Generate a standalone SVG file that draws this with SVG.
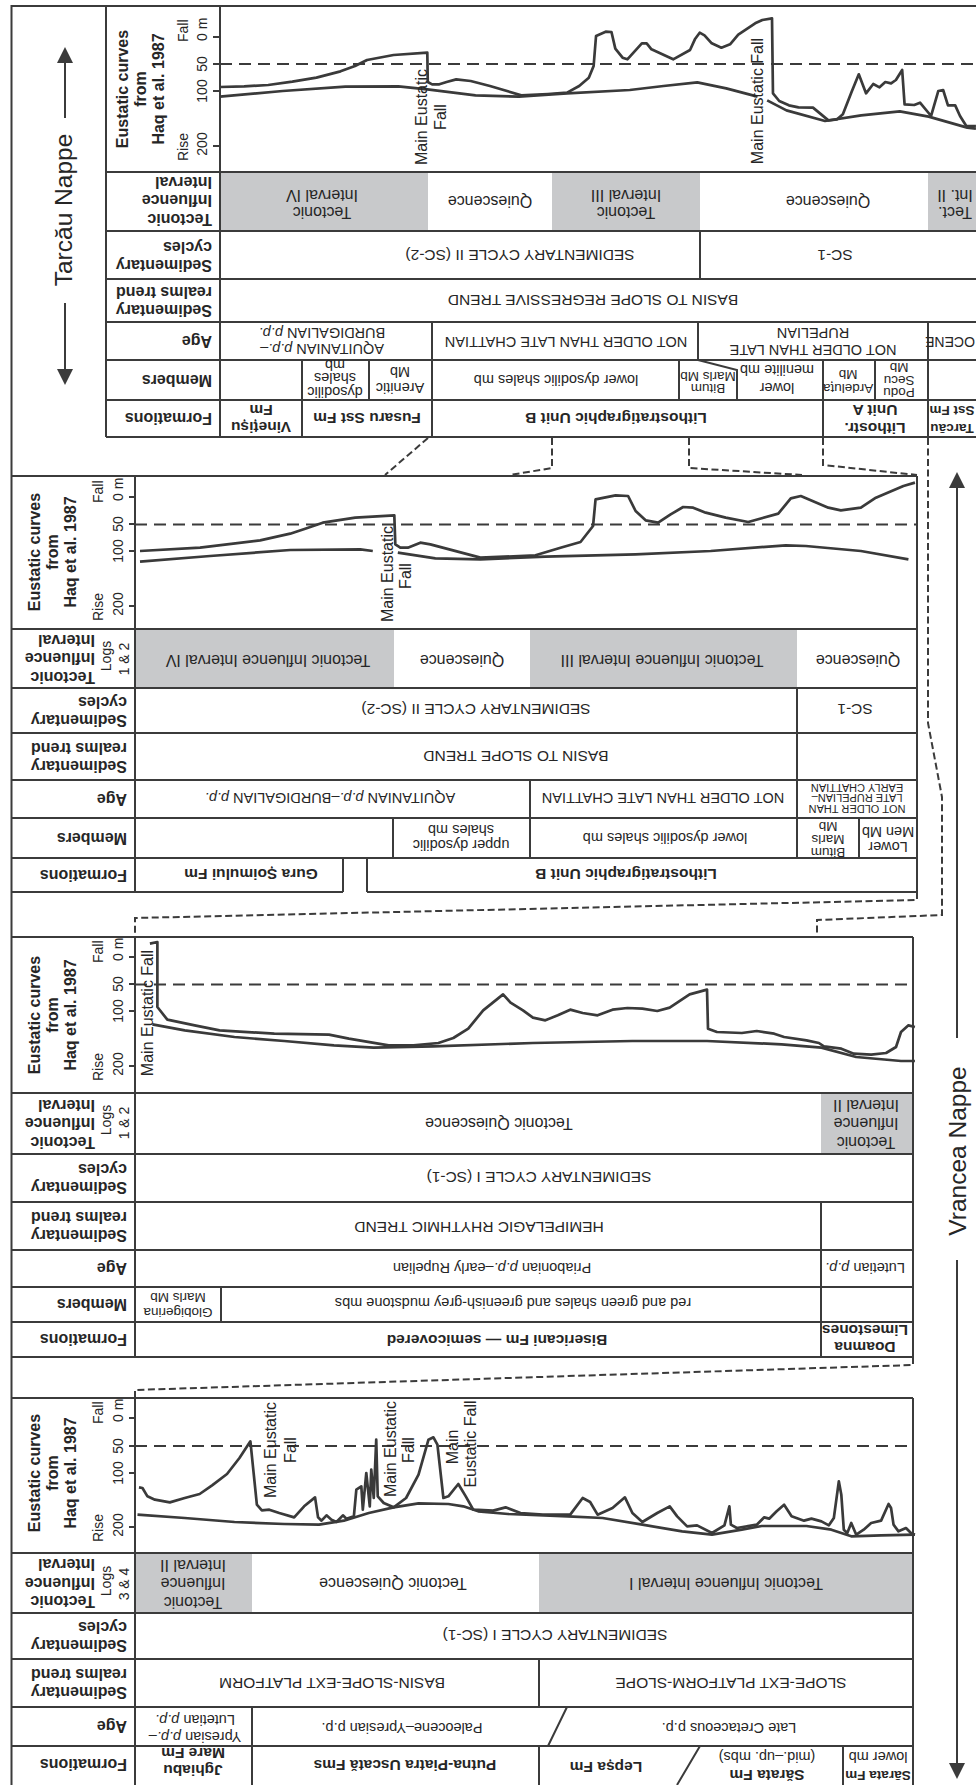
<svg xmlns="http://www.w3.org/2000/svg" width="976" height="1785" viewBox="0 0 976 1785">
<style>
text{font-family:"Liberation Sans",Arial,Helvetica,sans-serif;fill:#262626;text-anchor:middle;dominant-baseline:central}
.hd{font-weight:bold;font-size:16px}
.st{text-anchor:start}
.c{font-size:16px}
.c2{font-size:15.5px}
.ag{font-size:14.5px}
.mb{font-size:14.5px}
.sm{font-size:13.5px}
.xs{font-size:11px}
.fm{font-weight:bold;font-size:15.5px}
.fs{font-weight:bold;font-size:13.5px}
.ax{font-size:14px}
.me{font-size:16px}
.np{font-size:24.5px}
.ln{stroke:#3b3b3b;stroke-width:2;fill:none}
.dl{stroke:#3b3b3b;stroke-width:1.8;stroke-dasharray:12 7;fill:none}
.cn{stroke:#3b3b3b;stroke-width:2;stroke-dasharray:7 3.5;fill:none}
.cv{stroke:#3a3a3a;stroke-width:2.7;fill:none;stroke-linejoin:round;vector-effect:non-scaling-stroke}
.gr{fill:#c8c9cb}
.ar{fill:#3b3b3b}
.i{font-style:italic}
</style>
<rect width="976" height="1785" fill="#fff"/>
<g id="frame"><path class="ln" d="M11.5 1785V6H976"/></g>

<g id="tarcau-nappe">
<path class="ln" d="M65 60V118M65 303V372"/>
<polygon class="ar" points="65,47 57,63 73,63"/>
<polygon class="ar" points="65,385 57,369 73,369"/>
<text class="np" x="63" y="210" transform="rotate(-90 63 210)">Tarcău Nappe</text>
</g>
<g id="vrancea-nappe">
<path class="ln" d="M957 486V1038M957 1260V1766"/>
<polygon class="ar" points="957,472 949,488 965,488"/>
<polygon class="ar" points="957,1779 949,1763 965,1763"/>
<text class="np" x="957" y="1151" transform="rotate(-90 957 1151)">Vrancea Nappe</text>
</g>

<!-- PANEL 1 -->
<g id="panel1">
<rect class="gr" x="220" y="172" width="208" height="59"/>
<rect class="gr" x="552" y="172" width="148" height="59"/>
<rect class="gr" x="928" y="172" width="48" height="59"/>
<path class="ln" d="M106 6V437M220 6V437M106 172H976M106 231H976M106 279H976M106 322H976M106 360H976M106 400H976M106 437H976M700 231V279M432 322V360M698 322V360M928 322V360M302 360V437M369 360V400M432 360V437M679 360V400M698 360L737 370V400M823 360V437M875 360V400M928 360V437M213 37H220M213 64H220M213 91H220M213 146H220"/>
<path class="dl" d="M220 64H976"/>
<g transform="translate(220 6) scale(0.4821 0.33333)">
<polyline class="cv" points="0,243 50,241 100,237 150,227 200,215 250,196 280,180 305,162 360,147 430,140 431,228 440,235 455,235 470,228 490,220 520,225 560,240 625,268 680,264 720,260 745,240 765,215 775,180 780,90 800,77 812,78 820,128 835,155 845,160 875,112 885,112 895,130 940,160 975,132 985,100 995,80 1005,88 1020,112 1040,125 1058,115 1075,86 1110,52 1125,42 1145,37 1147,262 1160,285 1180,298 1200,304 1230,305 1262,343 1280,340 1292,325 1310,258 1325,205 1340,262 1355,234 1368,244 1380,228 1392,232 1402,222 1415,192 1420,295 1440,297 1452,290 1475,330 1490,255 1500,252 1510,298 1525,298 1535,330 1548,360 1568,360"/>
<polyline class="cv" points="0,272 130,255 260,242 370,241 430,250 530,268 620,272 720,262 850,252 920,240 990,229 1050,247 1115,272"/>
<polyline class="cv" points="1135,283 1175,313 1255,345 1330,328 1410,316 1470,332 1550,365 1568,368"/>
</g>
<text class="hd" x="122" y="89" transform="rotate(-90 122 89)">Eustatic curves</text>
<text class="hd" x="140" y="89" transform="rotate(-90 140 89)">from</text>
<text class="hd" x="158" y="89" transform="rotate(-90 158 89)">Haq et al. 1987</text>
<text class="ax st" x="183" y="42" transform="rotate(-90 183 42)">Fall</text>
<text class="ax st" x="202" y="41" transform="rotate(-90 202 41)">0 m</text>
<text class="ax" x="202" y="64" transform="rotate(-90 202 64)">50</text>
<text class="ax" x="202" y="91" transform="rotate(-90 202 91)">100</text>
<text class="ax" x="202" y="144" transform="rotate(-90 202 144)">200</text>
<text class="ax" x="183" y="147" transform="rotate(-90 183 147)">Rise</text>
<text class="hd st" x="212" y="219" transform="rotate(180 212 219)">Tectonic</text>
<text class="hd st" x="212" y="200" transform="rotate(180 212 200)">Influence</text>
<text class="hd st" x="212" y="182" transform="rotate(180 212 182)">Interval</text>
<text class="hd st" x="212" y="265" transform="rotate(180 212 265)">Sedimentary</text>
<text class="hd st" x="212" y="247" transform="rotate(180 212 247)">cycles</text>
<text class="hd st" x="212" y="310" transform="rotate(180 212 310)">Sedimentary</text>
<text class="hd st" x="212" y="292" transform="rotate(180 212 292)">realms trend</text>
<text class="hd st" x="212" y="341" transform="rotate(180 212 341)">Age</text>
<text class="hd st" x="212" y="380" transform="rotate(180 212 380)">Members</text>
<text class="hd st" x="212" y="418" transform="rotate(180 212 418)">Formations</text>
<text class="me" x="421" y="117" transform="rotate(-90 421 117)">Main Eustatic</text>
<text class="me" x="440" y="117" transform="rotate(-90 440 117)">Fall</text>
<text class="me" x="757" y="101" transform="rotate(-90 757 101)">Main Eustatic Fall</text>
<text class="c" x="322" y="212" transform="rotate(180 322 212)">Tectonic</text>
<text class="c" x="322" y="195" transform="rotate(180 322 195)">Interval IV</text>
<text class="c" x="490" y="201" transform="rotate(180 490 201)">Quiescence</text>
<text class="c" x="626" y="212" transform="rotate(180 626 212)">Tectonic</text>
<text class="c" x="626" y="195" transform="rotate(180 626 195)">Interval III</text>
<text class="c" x="828" y="201" transform="rotate(180 828 201)">Quiescence</text>
<text class="c" x="955" y="212" transform="rotate(180 955 212)">Tect.</text>
<text class="c" x="955" y="195" transform="rotate(180 955 195)">Int. II</text>
<text class="c2" x="520" y="255" transform="rotate(180 520 255)">SEDIMENTARY CYCLE II (SC-2)</text>
<text class="c2" x="835" y="255" transform="rotate(180 835 255)">SC-1</text>
<text class="c2" x="593" y="300" transform="rotate(180 593 300)">BASIN TO SLOPE REGRESSIVE TREND</text>
<text class="ag" x="322" y="349" transform="rotate(180 322 349)">AQUITANIAN <tspan class="i">p.p.</tspan>–</text>
<text class="ag" x="322" y="333" transform="rotate(180 322 333)">BURDIGALIAN <tspan class="i">p.p.</tspan></text>
<text class="ag" x="566" y="342" transform="rotate(180 566 342)">NOT OLDER THAN LATE CHATTIAN</text>
<text class="ag" x="813" y="350" transform="rotate(180 813 350)">NOT OLDER THAN LATE</text>
<text class="ag" x="813" y="333" transform="rotate(180 813 333)">RUPELIAN</text>
<text x="950" y="342" font-size="14" transform="rotate(180 950 342)">OCENE</text>
<text class="mb" x="335" y="392" transform="rotate(180 335 392)">dysodilic</text>
<text class="mb" x="335" y="378" transform="rotate(180 335 378)">shales</text>
<text class="mb" x="335" y="365" transform="rotate(180 335 365)">mb</text>
<text class="mb" x="400" y="388" transform="rotate(180 400 388)">Arenitic</text>
<text class="mb" x="400" y="372" transform="rotate(180 400 372)">Mb</text>
<text class="mb" x="556" y="380" transform="rotate(180 556 380)">lower dysodilic shales mb</text>
<text class="sm" x="708" y="388" transform="rotate(180 708 388)">Bitum</text>
<text class="sm" x="708" y="376" transform="rotate(180 708 376)">Marls Mb</text>
<text class="mb" x="777" y="388" transform="rotate(180 777 388)">lower</text>
<text class="mb" x="777" y="370" transform="rotate(180 777 370)">menilite mb</text>
<text class="sm" x="848" y="388" transform="rotate(180 848 388)">Ardeluța</text>
<text class="sm" x="848" y="374" transform="rotate(180 848 374)">Mb</text>
<text class="sm" x="899" y="392" transform="rotate(180 899 392)">Podu</text>
<text class="sm" x="899" y="380" transform="rotate(180 899 380)">Secu</text>
<text class="sm" x="899" y="367" transform="rotate(180 899 367)">Mb</text>
<text class="fm" x="261" y="427" transform="rotate(180 261 427)">Vinețișu</text>
<text class="fm" x="261" y="410" transform="rotate(180 261 410)">Fm</text>
<text class="fm" x="367" y="418" transform="rotate(180 367 418)">Fusaru Sst Fm</text>
<text class="fm" x="616" y="418" transform="rotate(180 616 418)">Lithostratigraphic Unit B</text>
<text class="fm" x="875" y="428" transform="rotate(180 875 428)">Lithostr.</text>
<text class="fm" x="875" y="410" transform="rotate(180 875 410)">Unit A</text>
<text class="fs" x="952" y="428" transform="rotate(180 952 428)">Tarcău</text>
<text class="fs" x="952" y="410" transform="rotate(180 952 410)">Sst Fm</text>
</g>

<!-- PANEL 2 -->
<g id="panel2">
<rect class="gr" x="135" y="629" width="259" height="59"/>
<rect class="gr" x="530" y="629" width="267" height="59"/>
<path class="ln" d="M11 476H917M11 629H917M11 688H917M11 733H917M11 780H917M11 818H917M11 858H917M11 892H343M367 892H917M135 476V892M917 476V892M797 688V780M530 780V858M797 780V858M393 818V858M859 818V858M343 858V892M367 858V892M129 497H135M129 524H135M129 551H135M129 606H135"/>
<path class="dl" d="M135 524.5H917"/>
<g transform="translate(135 476) scale(0.5006 0.33333)">
<polyline class="cv" points="10,225 130,215 250,193 310,173 340,158 375,140 440,125 518,118 520,205 530,215 545,215 570,200 590,205 690,245 800,238 850,215 890,198 915,150 920,70 960,58 985,60 1000,105 1020,133 1045,140 1070,115 1095,93 1115,95 1140,110 1180,125 1225,138 1285,113 1310,67 1330,60 1385,95 1410,103 1450,95 1480,65 1535,30 1558,20"/>
<polyline class="cv" points="10,257 150,240 310,222 450,220 475,225"/>
<polyline class="cv" points="525,230 600,247 690,250 820,242 1000,235 1150,225 1300,208 1340,210 1450,225 1545,250"/>
</g>
<text class="hd" x="34" y="552" transform="rotate(-90 34 552)">Eustatic curves</text>
<text class="hd" x="52" y="552" transform="rotate(-90 52 552)">from</text>
<text class="hd" x="70" y="552" transform="rotate(-90 70 552)">Haq et al. 1987</text>
<text class="ax st" x="98" y="503" transform="rotate(-90 98 503)">Fall</text>
<text class="ax st" x="118" y="501" transform="rotate(-90 118 501)">0 m</text>
<text class="ax" x="118" y="524" transform="rotate(-90 118 524)">50</text>
<text class="ax" x="118" y="551" transform="rotate(-90 118 551)">100</text>
<text class="ax" x="118" y="604" transform="rotate(-90 118 604)">200</text>
<text class="ax" x="98" y="607" transform="rotate(-90 98 607)">Rise</text>
<text class="hd st" x="95" y="677" transform="rotate(180 95 677)">Tectonic</text>
<text class="hd st" x="95" y="658.5" transform="rotate(180 95 658.5)">Influence</text>
<text class="hd st" x="95" y="640" transform="rotate(180 95 640)">Interval</text>
<text class="ax" x="106" y="656" transform="rotate(-90 106 656)">Logs</text>
<text class="ax" x="124" y="659" transform="rotate(-90 124 659)">1 &amp; 2</text>
<text class="hd st" x="127" y="720" transform="rotate(180 127 720)">Sedimentary</text>
<text class="hd st" x="127" y="702" transform="rotate(180 127 702)">cycles</text>
<text class="hd st" x="127" y="766" transform="rotate(180 127 766)">Sedimentary</text>
<text class="hd st" x="127" y="748" transform="rotate(180 127 748)">realms trend</text>
<text class="hd st" x="127" y="799" transform="rotate(180 127 799)">Age</text>
<text class="hd st" x="127" y="838" transform="rotate(180 127 838)">Members</text>
<text class="hd st" x="127" y="875" transform="rotate(180 127 875)">Formations</text>
<text class="me" x="387" y="574" transform="rotate(-90 387 574)">Main Eustatic</text>
<text class="me" x="405" y="576" transform="rotate(-90 405 576)">Fall</text>
<text class="c" x="268" y="660" transform="rotate(180 268 660)">Tectonic Influence Interval IV</text>
<text class="c" x="462" y="660" transform="rotate(180 462 660)">Quiescence</text>
<text class="c" x="662" y="660" transform="rotate(180 662 660)">Tectonic Influence Interval III</text>
<text class="c" x="858" y="660" transform="rotate(180 858 660)">Quiescence</text>
<text class="c2" x="476" y="709" transform="rotate(180 476 709)">SEDIMENTARY CYCLE II (SC-2)</text>
<text class="c2" x="855" y="709" transform="rotate(180 855 709)">SC-1</text>
<text class="c2" x="516" y="756" transform="rotate(180 516 756)">BASIN TO SLOPE TREND</text>
<text class="ag" x="330" y="798" transform="rotate(180 330 798)">AQUITANIAN <tspan class="i">p.p.</tspan>–BURDIGALIAN <tspan class="i">p.p.</tspan></text>
<text class="ag" x="663" y="798" transform="rotate(180 663 798)">NOT OLDER THAN LATE CHATTIAN</text>
<text class="xs" x="857" y="809" transform="rotate(180 857 809)">NOT OLDER THAN</text>
<text class="xs" x="857" y="798" transform="rotate(180 857 798)">LATE RUPELIAN–</text>
<text class="xs" x="857" y="788" transform="rotate(180 857 788)">EARLY CHATTIAN</text>
<text class="mb" x="461" y="845" transform="rotate(180 461 845)">upper dysodilic</text>
<text class="mb" x="461" y="830" transform="rotate(180 461 830)">shales mb</text>
<text class="mb" x="665" y="838" transform="rotate(180 665 838)">lower dysodilic shales mb</text>
<text class="sm" x="828" y="852" transform="rotate(180 828 852)">Bitum</text>
<text class="sm" x="828" y="839" transform="rotate(180 828 839)">Marls</text>
<text class="sm" x="828" y="826" transform="rotate(180 828 826)">Mb</text>
<text class="mb" x="888" y="847" transform="rotate(180 888 847)">Lower</text>
<text class="mb" x="888" y="832" transform="rotate(180 888 832)">Men Mb</text>
<text class="fm" x="251" y="874" transform="rotate(180 251 874)">Gura Șoimului Fm</text>
<text class="fm" x="626" y="874" transform="rotate(180 626 874)">Lithostratigraphic Unit B</text>
</g>

<!-- PANEL 3 -->
<g id="panel3">
<rect class="gr" x="821" y="1093" width="92" height="61"/>
<path class="ln" d="M11 937H913M11 1093H913M11 1154H913M11 1202H913M11 1250H913M11 1287H913M11 1322H913M11 1357H913M135 937V1357M913 937V1357M821 1202V1357M221 1287V1322M129 957H135M129 984H135M129 1011H135M129 1066H135"/>
<path class="dl" d="M135 984.5H913"/>
<g transform="translate(135 937) scale(0.4974 0.33333)">
<polyline class="cv" points="30,20 45,15 45,210 65,248 120,265 170,280 280,290 390,293 430,305 510,325 560,325 610,318 640,303 670,275 700,220 740,172 755,197 780,220 800,242 825,250 850,235 875,218 900,228 930,235 960,218 990,213 1020,215 1050,222 1075,212 1115,172 1150,158 1152,275 1170,285 1220,288 1250,282 1285,290 1305,300 1350,310 1375,318 1385,328 1420,335 1445,350 1480,353 1510,348 1530,330 1540,285 1555,265 1568,270"/>
<polyline class="cv" points="35,262 100,280 200,300 300,312 400,325 480,332 600,328 800,318 1000,312 1150,312 1300,322 1380,332 1450,360 1540,372 1568,372"/>
</g>
<text class="hd" x="34" y="1015" transform="rotate(-90 34 1015)">Eustatic curves</text>
<text class="hd" x="52" y="1015" transform="rotate(-90 52 1015)">from</text>
<text class="hd" x="70" y="1015" transform="rotate(-90 70 1015)">Haq et al. 1987</text>
<text class="ax st" x="98" y="963" transform="rotate(-90 98 963)">Fall</text>
<text class="ax st" x="118" y="961" transform="rotate(-90 118 961)">0 m</text>
<text class="ax" x="118" y="984" transform="rotate(-90 118 984)">50</text>
<text class="ax" x="118" y="1011" transform="rotate(-90 118 1011)">100</text>
<text class="ax" x="118" y="1064" transform="rotate(-90 118 1064)">200</text>
<text class="ax" x="98" y="1067" transform="rotate(-90 98 1067)">Rise</text>
<text class="hd st" x="95" y="1142" transform="rotate(180 95 1142)">Tectonic</text>
<text class="hd st" x="95" y="1123.5" transform="rotate(180 95 1123.5)">Influence</text>
<text class="hd st" x="95" y="1105" transform="rotate(180 95 1105)">Interval</text>
<text class="ax" x="106" y="1120" transform="rotate(-90 106 1120)">Logs</text>
<text class="ax" x="124" y="1123" transform="rotate(-90 124 1123)">1 &amp; 2</text>
<text class="hd st" x="127" y="1187" transform="rotate(180 127 1187)">Sedimentary</text>
<text class="hd st" x="127" y="1169" transform="rotate(180 127 1169)">cycles</text>
<text class="hd st" x="127" y="1235" transform="rotate(180 127 1235)">Sedimentary</text>
<text class="hd st" x="127" y="1217" transform="rotate(180 127 1217)">realms trend</text>
<text class="hd st" x="127" y="1268.5" transform="rotate(180 127 1268.5)">Age</text>
<text class="hd st" x="127" y="1304.5" transform="rotate(180 127 1304.5)">Members</text>
<text class="hd st" x="127" y="1339.5" transform="rotate(180 127 1339.5)">Formations</text>
<text class="me" x="147" y="1013" transform="rotate(-90 147 1013)">Main Eustatic Fall</text>
<text class="c" x="499" y="1123" transform="rotate(180 499 1123)">Tectonic Quiescence</text>
<text class="c" x="866" y="1142" transform="rotate(180 866 1142)">Tectonic</text>
<text class="c" x="866" y="1123" transform="rotate(180 866 1123)">Influence</text>
<text class="c" x="866" y="1105" transform="rotate(180 866 1105)">Interval II</text>
<text class="c2" x="539" y="1177" transform="rotate(180 539 1177)">SEDIMENTARY CYCLE I (SC-1)</text>
<text class="c2" x="479" y="1227" transform="rotate(180 479 1227)">HEMIPELAGIC RHYTHMIC TREND</text>
<text class="ag" x="492" y="1268" transform="rotate(180 492 1268)">Priabonian <tspan class="i">p.p.</tspan>–early Rupelian</text>
<text class="ag" x="865" y="1268" transform="rotate(180 865 1268)">Lutetian <tspan class="i">p.p.</tspan></text>
<text class="sm" x="178" y="1312" transform="rotate(180 178 1312)">Globigerina</text>
<text class="sm" x="178" y="1297" transform="rotate(180 178 1297)">Marls Mb</text>
<text class="mb" x="513" y="1303" transform="rotate(180 513 1303)">red and green shales and greenish-grey mudstone mbs</text>
<text class="fm" x="497" y="1340" transform="rotate(180 497 1340)">Bisericani Fm — semicovered</text>
<text class="fm" x="865" y="1347" transform="rotate(180 865 1347)">Doamna</text>
<text class="fm" x="865" y="1330" transform="rotate(180 865 1330)">Limestones</text>
</g>

<!-- PANEL 4 -->
<g id="panel4">
<rect class="gr" x="135" y="1553" width="117" height="60"/>
<rect class="gr" x="539" y="1553" width="374" height="60"/>
<path class="ln" d="M11 1398H913M11 1553H913M11 1613H913M11 1659H913M11 1707H913M11 1746H913M135 1398V1785M913 1398V1785M539 1659V1707M252 1707V1785M567 1707L548 1746M539 1746V1785M700 1746L677 1785M843 1746V1785M129 1418H135M129 1446H135M129 1473H135M129 1527H135"/>
<path class="dl" d="M135 1446H913"/>
<g transform="translate(135 1398) scale(0.4974 0.33333)">
<polyline class="cv" points="8,268 15,270 25,295 40,305 70,313 100,300 130,288 155,262 185,228 210,180 232,130 245,320 255,337 270,335 290,345 320,358 340,325 362,298 368,358 375,368 385,352 395,365 405,372 418,352 425,362 440,355 445,275 455,265 458,335 465,225 472,325 475,215 480,300 485,125 488,295 500,315 520,328 545,300 570,230 590,125 600,118 608,140 620,300 630,295 650,258 665,295 680,335 720,338 745,328 775,345 820,350 875,350 900,300 915,312 930,350 960,330 985,298 1000,345 1020,372 1050,345 1075,325 1090,355 1110,385 1130,382 1160,405 1185,382 1195,325 1198,380 1210,390 1250,380 1265,358 1275,362 1290,340 1305,320 1320,355 1345,368 1360,362 1380,370 1395,382 1405,360 1415,250 1420,290 1425,395 1432,405 1440,375 1450,410 1465,395 1480,375 1500,368 1515,318 1520,330 1525,380 1535,400 1550,390 1560,405 1568,410"/>
<polyline class="cv" points="5,350 100,360 200,372 300,378 370,380 420,368 470,345 520,328 570,316 630,318 660,325 690,340 750,348 870,355 940,360 1020,380 1100,400 1160,410 1220,395 1260,384 1350,384 1400,395 1440,415 1500,412 1568,410"/>
</g>
<text class="hd" x="34" y="1473" transform="rotate(-90 34 1473)">Eustatic curves</text>
<text class="hd" x="52" y="1473" transform="rotate(-90 52 1473)">from</text>
<text class="hd" x="70" y="1473" transform="rotate(-90 70 1473)">Haq et al. 1987</text>
<text class="ax st" x="98" y="1424" transform="rotate(-90 98 1424)">Fall</text>
<text class="ax st" x="118" y="1422" transform="rotate(-90 118 1422)">0 m</text>
<text class="ax" x="118" y="1446" transform="rotate(-90 118 1446)">50</text>
<text class="ax" x="118" y="1473" transform="rotate(-90 118 1473)">100</text>
<text class="ax" x="118" y="1525" transform="rotate(-90 118 1525)">200</text>
<text class="ax" x="98" y="1528" transform="rotate(-90 98 1528)">Rise</text>
<text class="hd st" x="95" y="1601.5" transform="rotate(180 95 1601.5)">Tectonic</text>
<text class="hd st" x="95" y="1583" transform="rotate(180 95 1583)">Influence</text>
<text class="hd st" x="95" y="1564.5" transform="rotate(180 95 1564.5)">Interval</text>
<text class="ax" x="106" y="1581" transform="rotate(-90 106 1581)">Logs</text>
<text class="ax" x="124" y="1584" transform="rotate(-90 124 1584)">3 &amp; 4</text>
<text class="hd st" x="127" y="1645" transform="rotate(180 127 1645)">Sedimentary</text>
<text class="hd st" x="127" y="1627" transform="rotate(180 127 1627)">cycles</text>
<text class="hd st" x="127" y="1692" transform="rotate(180 127 1692)">Sedimentary</text>
<text class="hd st" x="127" y="1674" transform="rotate(180 127 1674)">realms trend</text>
<text class="hd st" x="127" y="1726.5" transform="rotate(180 127 1726.5)">Age</text>
<text class="hd st" x="127" y="1764" transform="rotate(180 127 1764)">Formations</text>
<text class="me" x="270" y="1450" transform="rotate(-90 270 1450)">Main Eustatic</text>
<text class="me" x="290" y="1450" transform="rotate(-90 290 1450)">Fall</text>
<text class="me" x="390" y="1449" transform="rotate(-90 390 1449)">Main Eustatic</text>
<text class="me" x="408" y="1450" transform="rotate(-90 408 1450)">Fall</text>
<text class="me" x="452" y="1447" transform="rotate(-90 452 1447)">Main</text>
<text class="me" x="470" y="1444" transform="rotate(-90 470 1444)">Eustatic Fall</text>
<text class="c" x="193" y="1602" transform="rotate(180 193 1602)">Tectonic</text>
<text class="c" x="193" y="1583" transform="rotate(180 193 1583)">Influence</text>
<text class="c" x="193" y="1565" transform="rotate(180 193 1565)">Interval II</text>
<text class="c" x="393" y="1583" transform="rotate(180 393 1583)">Tectonic Quiescence</text>
<text class="c" x="726" y="1583" transform="rotate(180 726 1583)">Tectonic Influence Interval I</text>
<text class="c2" x="555" y="1635" transform="rotate(180 555 1635)">SEDIMENTARY CYCLE I (SC-1)</text>
<text class="c2" x="332" y="1683" transform="rotate(180 332 1683)">BASIN-SLOPE-EXT PLATFORM</text>
<text class="c2" x="731" y="1683" transform="rotate(180 731 1683)">SLOPE-EXT PLATFORM-SLOPE</text>
<text class="ag" x="195" y="1737" transform="rotate(180 195 1737)">Ypresian <tspan class="i">p.p.</tspan>–</text>
<text class="ag" x="195" y="1720" transform="rotate(180 195 1720)">Lutetian <tspan class="i">p.p.</tspan></text>
<text class="ag" x="402" y="1728" transform="rotate(180 402 1728)">Paleocene–Ypresian p.p.</text>
<text class="ag" x="729" y="1728" transform="rotate(180 729 1728)">Late Cretaceous p.p.</text>
<text class="fm" x="193" y="1770" transform="rotate(180 193 1770)">Jghiabu</text>
<text class="fm" x="193" y="1753" transform="rotate(180 193 1753)">Mare Fm</text>
<text class="fm" x="405" y="1765" transform="rotate(180 405 1765)">Putna-Piatra Uscată Fms</text>
<text class="fm" x="606" y="1767" transform="rotate(180 606 1767)">Lepșa Fm</text>
<text class="fm" x="767" y="1775" transform="rotate(180 767 1775)">Sărata Fm</text>
<text class="mb" x="767" y="1757" transform="rotate(180 767 1757)">(mid.–up. mbs)</text>
<text class="fs" x="878" y="1775" transform="rotate(180 878 1775)">Sărata Fm</text>
<text class="mb" x="878" y="1757" transform="rotate(180 878 1757)">lower mb</text>
</g>

<g id="connectors">
<path class="cn" d="M428 438L385 475"/>
<path class="cn" d="M552 438V468L510 475"/>
<path class="cn" d="M689 438V468L802 475"/>
<path class="cn" d="M823 438V465L917 475"/>
<path class="cn" d="M928 438V723L942 797V915L817 920V937"/>
<path class="cn" d="M917 892V900L135 918V937"/>
<path class="cn" d="M913 1357V1365L135 1390V1398"/>
</g>
</svg>
